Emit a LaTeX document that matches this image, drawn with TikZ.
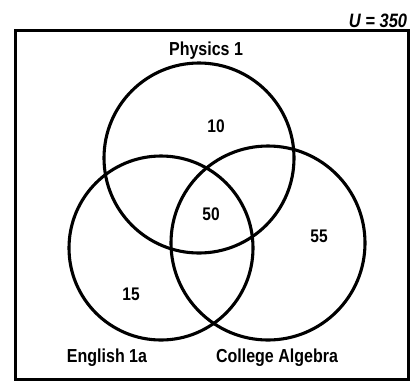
\documentclass[tikz,border=0pt]{standalone}
\usepackage{graphicx}
\usepackage{fontspec}
\setsansfont{Liberation Sans}
\usetikzlibrary{positioning}
\newcommand{\tall}[1]{\scalebox{0.97}[1.14]{#1}}
\tikzset{
  universe/.style={
    draw=black, line width=3pt, inner sep=0pt,
    minimum width=393pt, minimum height=349pt
  },
  setcircle/.style={draw=black, circle, line width=3.1pt, inner sep=0pt},
  setlabel/.style={anchor=base, inner sep=0pt, font=\fontsize{16.5}{18}\selectfont\sffamily\bfseries},
  count/.style={anchor=base, inner sep=0pt, font=\fontsize{16}{18}\selectfont\sffamily\bfseries}
}

\begin{document}
\begin{tikzpicture}[x=1pt, y=-1pt]
  \useasboundingbox (0,0) rectangle (411,381);
  \node[universe] (box) at (211.5,204.5) {};
  \node[setlabel, font=\fontsize{17}{19}\selectfont\sffamily\bfseries\itshape] (total) at (378,27) {\tall{U = 350}};

  % the three sets
  \node[setcircle, minimum size=190pt] (physics) at (199,158) {};
  \node[setcircle, minimum size=184pt] (english) at (161,248) {};
  \node[setcircle, minimum size=194pt] (algebra) at (268,243) {};

  \node[setlabel] (physicsname) at (206,55) {\tall{Physics 1}};
  \node[setlabel] (englishname) at (107,362) {\tall{English 1a}};
  \node[setlabel] (algebraname) at (277,362) {\tall{College Algebra}};

  % counts
  \node[count] (onlyphys) at (216,132) {\tall{10}};
  \node[count] (allthree) at (211,220) {\tall{50}};
  \node[count] (onlyalg) at (319,242) {\tall{55}};
  \node[count] (onlyeng) at (131,300) {\tall{15}};
\end{tikzpicture}
\end{document}
